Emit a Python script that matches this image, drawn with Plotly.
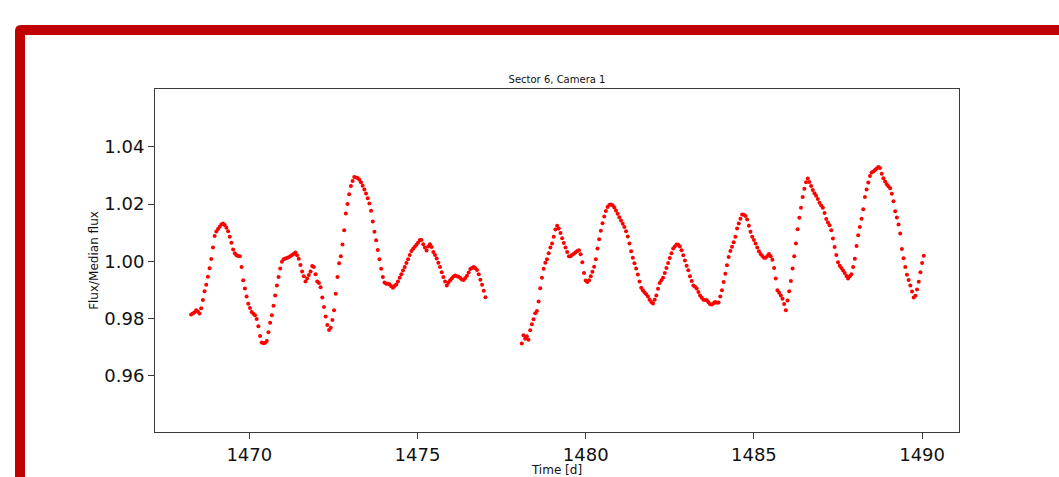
import numpy as np
import plotly.graph_objects as go

# Light curve of one target, TESS Sector 6 / Camera 1, normalised by its median.
# Two orbits separated by the data-downlink gap; samples every CADENCE days.
CADENCE = 0.05

ORBIT1_START = 1468.27
ORBIT1_FLUX = [
    0.9814, 0.9818, 0.9821, 0.9829, 0.9825, 0.9818, 0.9836, 0.9865, 0.9896, 0.9918,
    0.9946, 0.9976, 1.0008, 1.0048, 1.0089, 1.0104, 1.0113, 1.0121, 1.0129, 1.0132,
    1.0127, 1.0117, 1.0105, 1.0086, 1.0065, 1.0041, 1.0028, 1.0021, 1.0019, 1.0018,
    0.9980, 0.9934, 0.9905, 0.9877, 0.9852, 0.9837, 0.9823, 0.9817, 0.9812, 0.9799,
    0.9773, 0.9739, 0.9717, 0.9714, 0.9716, 0.9722, 0.9752, 0.9786, 0.9812, 0.9845,
    0.9881, 0.9916, 0.9945, 0.9975, 0.9999, 1.0007, 1.0010, 1.0012, 1.0014, 1.0018,
    1.0022, 1.0026, 1.0031, 1.0021, 1.0009, 0.9987, 0.9965, 0.9948, 0.9930, 0.9940,
    0.9952, 0.9965, 0.9984, 0.9980, 0.9955, 0.9930, 0.9924, 0.9910, 0.9874, 0.9841,
    0.9807, 0.9778, 0.9760, 0.9768, 0.9795, 0.9829, 0.9887, 0.9945, 0.9993, 1.0018,
    1.0059, 1.0109, 1.0167, 1.0200, 1.0234, 1.0263, 1.0281, 1.0295, 1.0293, 1.0291,
    1.0285, 1.0276, 1.0264, 1.0251, 1.0237, 1.0220, 1.0202, 1.0177, 1.0139, 1.0103,
    1.0074, 1.0040, 1.0007, 0.9974, 0.9945, 0.9926, 0.9922, 0.9922, 0.9920, 0.9913,
    0.9908, 0.9914, 0.9919, 0.9930, 0.9943, 0.9955, 0.9968, 0.9980, 0.9994, 1.0007,
    1.0022, 1.0036, 1.0044, 1.0051, 1.0058, 1.0066, 1.0075, 1.0075, 1.0060, 1.0048,
    1.0038, 1.0052, 1.0060, 1.0050, 1.0033, 1.0022, 1.0010, 0.9995, 0.9980, 0.9962,
    0.9945, 0.9930, 0.9916, 0.9925, 0.9934, 0.9940, 0.9947, 0.9951, 0.9948, 0.9946,
    0.9942, 0.9937, 0.9935, 0.9942, 0.9950, 0.9961, 0.9973, 0.9977, 0.9980, 0.9976,
    0.9970, 0.9955, 0.9936, 0.9918, 0.9897, 0.9875,
]

ORBIT2_START = 1478.10
ORBIT2_FLUX = [
    0.9713, 0.9742, 0.9730, 0.9738, 0.9726, 0.9759, 0.9780, 0.9798, 0.9819, 0.9827,
    0.9860, 0.9906, 0.9943, 0.9974, 0.9995, 1.0007, 1.0028, 1.0048, 1.0062, 1.0086,
    1.0111, 1.0124, 1.0115, 1.0099, 1.0081, 1.0064, 1.0048, 1.0033, 1.0018, 1.0018,
    1.0023, 1.0027, 1.0032, 1.0036, 1.0039, 1.0025, 0.9997, 0.9959, 0.9933, 0.9928,
    0.9934, 0.9948, 0.9964, 0.9981, 1.0007, 1.0045, 1.0077, 1.0107, 1.0133, 1.0157,
    1.0176, 1.0190, 1.0197, 1.0199, 1.0196, 1.0188, 1.0178, 1.0166, 1.0154, 1.0143,
    1.0131, 1.0120, 1.0105, 1.0087, 1.0062, 1.0035, 1.0013, 0.9993, 0.9975, 0.9954,
    0.9930, 0.9908, 0.9899, 0.9891, 0.9885, 0.9877, 0.9866, 0.9858, 0.9853, 0.9866,
    0.9881, 0.9904, 0.9924, 0.9934, 0.9943, 0.9959, 0.9977, 0.9994, 1.0012, 1.0028,
    1.0045, 1.0052, 1.0059, 1.0058, 1.0052, 1.0039, 1.0021, 1.0003, 0.9985, 0.9969,
    0.9948, 0.9931, 0.9916, 0.9911, 0.9905, 0.9893, 0.9881, 0.9873, 0.9866, 0.9865,
    0.9864, 0.9857, 0.9850, 0.9849, 0.9854, 0.9858, 0.9855, 0.9856, 0.9877, 0.9899,
    0.9928, 0.9957, 0.9986, 1.0015, 1.0036, 1.0051, 1.0067, 1.0086, 1.0115, 1.0132,
    1.0149, 1.0164, 1.0163, 1.0158, 1.0146, 1.0124, 1.0103, 1.0086, 1.0075, 1.0062,
    1.0048, 1.0035, 1.0026, 1.0019, 1.0013, 1.0013, 1.0019, 1.0026, 1.0018, 1.0006,
    0.9977, 0.9940, 0.9899, 0.9890, 0.9881, 0.9869, 0.9851, 0.9829, 0.9863, 0.9896,
    0.9931, 0.9975, 1.0018, 1.0062, 1.0112, 1.0152, 1.0187, 1.0225, 1.0254, 1.0276,
    1.0289, 1.0277, 1.0263, 1.0249, 1.0238, 1.0229, 1.0218, 1.0205, 1.0195, 1.0187,
    1.0169, 1.0148, 1.0136, 1.0126, 1.0109, 1.0080, 1.0050, 1.0022, 0.9997, 0.9985,
    0.9977, 0.9968, 0.9959, 0.9949, 0.9940, 0.9948, 0.9955, 0.9980, 1.0009, 1.0054,
    1.0091, 1.0120, 1.0149, 1.0182, 1.0225, 1.0251, 1.0275, 1.0298, 1.0310, 1.0314,
    1.0319, 1.0324, 1.0330, 1.0326, 1.0306, 1.0290, 1.0279, 1.0269, 1.0262, 1.0255,
    1.0236, 1.0210, 1.0175, 1.0153, 1.0129, 1.0097, 1.0043, 1.0011, 0.9980, 0.9953,
    0.9935, 0.9916, 0.9895, 0.9874, 0.9880, 0.9902, 0.9929, 0.9962, 0.9994, 1.0020,
]

X_TICKS = [1470, 1475, 1480, 1485, 1490]
Y_TICKS = [0.96, 0.98, 1.00, 1.02, 1.04]


def orbit_times(start, flux):
    return start + CADENCE * np.arange(len(flux))


time = np.concatenate([orbit_times(ORBIT1_START, ORBIT1_FLUX),
                       orbit_times(ORBIT2_START, ORBIT2_FLUX)])
flux = np.concatenate([ORBIT1_FLUX, ORBIT2_FLUX])

W, H = 1059, 477
L, R, T, B = 155, 959, 89, 432  # plot-area box in pixels

fig = go.Figure(go.Scatter(
    x=time, y=flux, mode="markers",
    marker=dict(color="#ff0000", size=4, line=dict(width=0)),
    hoverinfo="x+y",
))


def px(x):
    return (x - L) / (R - L)


def py(y):
    return (B - y) / (B - T)


# Dark-red frame around the figure (top and left edges, rounded corner)
frame = (
    f"M {px(15)},{py(490)} L {px(15)},{py(31)} "
    f"Q {px(15)},{py(25)} {px(21)},{py(25)} "
    f"L {px(1070)},{py(25)} L {px(1070)},{py(35)} "
    f"L {px(25)},{py(35)} L {px(25)},{py(490)} Z"
)
fig.add_shape(type="path", path=frame, xref="paper", yref="paper",
              fillcolor="#c00000", line=dict(width=0), layer="above")

axis_common = dict(
    showgrid=False, zeroline=False, showline=True, mirror=True,
    linecolor="#3a3a3a", linewidth=1, automargin=False,
    ticks="outside", ticklen=6, tickwidth=1, tickcolor="#3a3a3a",
    tickfont=dict(size=18, color="#111111"),
)

fig.update_xaxes(
    range=[1467.197, 1491.097], tickvals=X_TICKS,
    ticktext=[str(v) for v in X_TICKS],
    title=dict(text="Time [d]", font=dict(size=12, color="#111111"), standoff=4),
    **axis_common,
)
fig.update_yaxes(
    range=[0.9404, 1.0602], tickvals=Y_TICKS,
    ticktext=[f"{v:.2f}" for v in Y_TICKS],
    title=dict(text="Flux/Median flux", font=dict(size=12, color="#111111"), standoff=3),
    **axis_common,
)

fig.update_layout(
    width=W, height=H,
    margin=dict(l=L, r=W - R, t=T, b=H - B, autoexpand=False),
    paper_bgcolor="white", plot_bgcolor="white",
    font=dict(family="DejaVu Sans"),
    showlegend=False,
    title=dict(text="Sector 6, Camera 1", x=(L + R) / 2 / W, xanchor="center",
               y=1 - 79 / H, yanchor="middle",
               font=dict(size=10, color="#111111")),
)

fig.write_html("out.html")
